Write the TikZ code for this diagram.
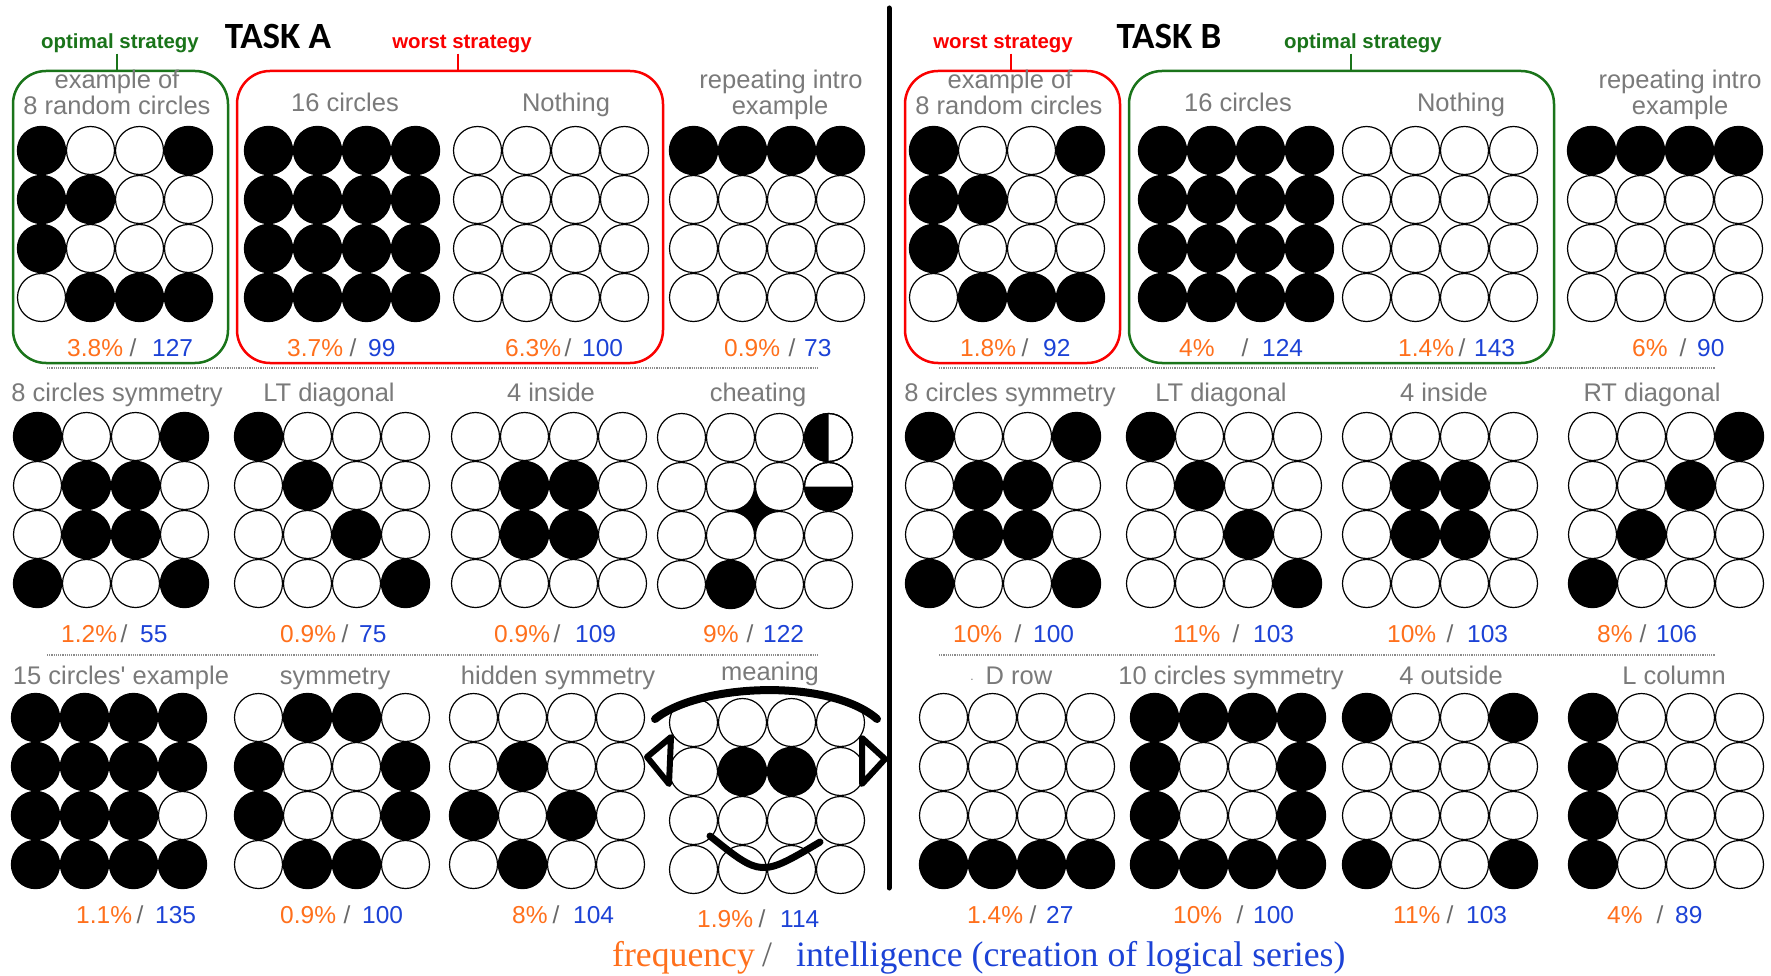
\documentclass[tikz,border=0pt]{standalone}
\usepackage{fontspec}
\setmainfont{Liberation Sans}
\newfontfamily\titlefont{Carlito}
\newfontfamily\legendfont{Liberation Serif}
\usetikzlibrary{calc}

\definecolor{labgray}{RGB}{122,122,122}
\definecolor{pctorange}{RGB}{255,112,28}
\definecolor{pctblue}{RGB}{28,66,214}
\definecolor{slashgray}{RGB}{105,105,105}
\definecolor{optgreen}{RGB}{26,116,26}
\definecolor{worstred}{RGB}{250,0,0}
\definecolor{sepgray}{RGB}{140,140,140}

\tikzset{
  heading/.style={font=\fontsize{37}{42}\titlefont\bfseries\selectfont, inner sep=0pt, anchor=base},
  optlab/.style={text=optgreen, font=\fontsize{20.4}{22}\bfseries\selectfont, inner sep=0pt, anchor=base},
  worstlab/.style={text=worstred, font=\fontsize{20.4}{22}\bfseries\selectfont, inner sep=0pt, anchor=base},
  optbox/.style={draw=optgreen, line width=2.5pt, rounded corners=33pt, inner sep=0pt, outer sep=0pt},
  worstbox/.style={draw=worstred, line width=2.5pt, rounded corners=33pt, inner sep=0pt, outer sep=0pt},
  lab/.style={text=labgray, font=\fontsize{25.5}{27}\selectfont, inner sep=0pt, anchor=base},
  pcto/.style={text=pctorange, font=\fontsize{24.5}{26}\selectfont, inner sep=0pt, anchor=base west},
  pcts/.style={text=slashgray, font=\fontsize{24.5}{26}\selectfont, inner sep=0pt, anchor=base},
  pctn/.style={text=pctblue, font=\fontsize{24.5}{26}\selectfont, inner sep=0pt, anchor=base west},
  legendtxt/.style={font=\fontsize{35.7}{38}\legendfont\selectfont, inner sep=0pt},
  whitecell/.style={draw=black, fill=white, line width=1.2pt},
  blackcell/.style={fill=black},
  sepline/.style={draw=sepgray, line width=1.6pt, dash pattern=on 1.1pt off 1.1pt},
  ticks/.style={line width=2.5pt},
  facestroke/.style={draw=black, line cap=round, line join=round}
}

% 4x4 field of circles: left edge, top edge, 16 values (1 = black)
\newcommand\dotgrid[3]{%
  \foreach \v [count=\k from 0] in {#3}{%
    \pgfmathtruncatemacro\gc{mod(\k,4)}%
    \pgfmathtruncatemacro\gr{div(\k,4)}%
    \ifnum\v=1
      \fill[blackcell] ({#1+49*\gc+24.5},{#2+49*\gr+24.5}) circle[radius=24.7pt];
    \else
      \draw[whitecell] ({#1+49*\gc+24.5},{#2+49*\gr+24.5}) circle[radius=24pt];
    \fi
  }%
}

% frequency / score pair: name, x of percent, percent, x of slash, x of score, score, baseline
\newcommand\pctline[7]{%
  \node[pcto] (#1o) at (#2,#7) {#3\%};
  \node[pcts] (#1s) at (#4,#7) {/};
  \node[pctn] (#1n) at (#5,#7) {#6};
}

\begin{document}
\begin{tikzpicture}[x=1pt,y=-1pt]
\fill[white] (0,0) rectangle (1771,976);
\useasboundingbox (0,0) rectangle (1771,976);

% ---------- headings ----------
\node[heading] (taskA) at (278,49) {TASK A};
\node[heading] (taskB) at (1169,49) {TASK B};

\node[optlab] (optA) at (120,49) {optimal strategy};
\node[worstlab] (worstA) at (462,49) {worst strategy};
\node[worstlab] (worstB) at (1003,49) {worst strategy};
\node[optlab] (optB) at (1363,49) {optimal strategy};

% ---------- strategy frames ----------
\node[optbox, minimum width=215pt, minimum height=292pt] (boxA1) at (120.5,217) {};
\node[worstbox, minimum width=426pt, minimum height=292pt] (boxA2) at (450,217) {};
\node[worstbox, minimum width=215pt, minimum height=292pt] (boxB1) at (1012.5,217) {};
\node[optbox, minimum width=425pt, minimum height=292pt] (boxB2) at (1341.5,217) {};

\coordinate (tA1) at (117,0);
\coordinate (tA2) at (458,0);
\coordinate (tB1) at (1011,0);
\coordinate (tB2) at (1351,0);
\draw[ticks, optgreen] (optA.south -| tA1) -- (boxA1.north -| tA1);
\draw[ticks, worstred] (worstA.south -| tA2) -- (boxA2.north -| tA2);
\draw[ticks, worstred] (worstB.south -| tB1) -- (boxB1.north -| tB1);
\draw[ticks, optgreen] (optB.south -| tB2) -- (boxB2.north -| tB2);

% ---------- separators ----------
\draw[line width=5pt, line cap=round] (889,8) -- (889,888);
\draw[sepline] (47,368) -- (818,368);
\draw[sepline] (939,368) -- (1715,368);
\draw[sepline] (47,655) -- (818,655);
\draw[sepline] (939,655) -- (1715,655);

% ---------- row 1 ----------
\node[lab] (lA1a) at (117,89) {example of};
\node[lab] (lA1b) at (117,115) {8 random circles};
\node[lab] (lA2) at (345,112) {16 circles};
\node[lab] (lA3) at (566,112) {Nothing};
\node[lab] (lA4a) at (781,89) {repeating intro};
\node[lab] (lA4b) at (780,115) {example};
\node[lab] (lB1a) at (1010,89) {example of};
\node[lab] (lB1b) at (1009,115) {8 random circles};
\node[lab] (lB2) at (1238,112) {16 circles};
\node[lab] (lB3) at (1461,112) {Nothing};
\node[lab] (lB4a) at (1680,89) {repeating intro};
\node[lab] (lB4b) at (1680,115) {example};

\dotgrid{17}{126}{1,0,0,1,1,1,0,0,1,0,0,0,0,1,1,1}
\dotgrid{244}{126}{1,1,1,1,1,1,1,1,1,1,1,1,1,1,1,1}
\dotgrid{453}{126}{0,0,0,0,0,0,0,0,0,0,0,0,0,0,0,0}
\dotgrid{669}{126}{1,1,1,1,0,0,0,0,0,0,0,0,0,0,0,0}
\dotgrid{909}{126}{1,0,0,1,1,1,0,0,1,0,0,0,0,1,1,1}
\dotgrid{1138}{126}{1,1,1,1,1,1,1,1,1,1,1,1,1,1,1,1}
\dotgrid{1342}{126}{0,0,0,0,0,0,0,0,0,0,0,0,0,0,0,0}
\dotgrid{1567}{126}{1,1,1,1,0,0,0,0,0,0,0,0,0,0,0,0}

\pctline{pA1}{67}{3.8}{133}{152}{127}{356}
\pctline{pA2}{287}{3.7}{353}{368}{99}{356}
\pctline{pA3}{505}{6.3}{568}{582}{100}{356}
\pctline{pA4}{724}{0.9}{792}{804}{73}{356}
\pctline{pB1}{960}{1.8}{1025}{1043}{92}{356}
\pctline{pB2}{1179}{4}{1245}{1262}{124}{356}
\pctline{pB3}{1398}{1.4}{1462}{1474}{143}{356}
\pctline{pB4}{1632}{6}{1683}{1697}{90}{356}

% ---------- row 2 ----------
\node[lab] (lA5) at (117,401) {8 circles symmetry};
\node[lab] (lA6) at (329,401) {LT diagonal};
\node[lab] (lA7) at (551,401) {4 inside};
\node[lab] (lA8) at (758,401) {cheating};
\node[lab] (lB5) at (1010,401) {8 circles symmetry};
\node[lab] (lB6) at (1221,401) {LT diagonal};
\node[lab] (lB7) at (1444,401) {4 inside};
\node[lab] (lB8) at (1652,401) {RT diagonal};

% dark gap between four cells in the cheating field
\fill[black] (755,486.5) -- (779.5,511) -- (755,535.5) -- (730.5,511) -- cycle;

\dotgrid{13}{412}{1,0,0,1,0,1,1,0,0,1,1,0,1,0,0,1}
\dotgrid{234}{412}{1,0,0,0,0,1,0,0,0,0,1,0,0,0,0,1}
\dotgrid{451}{412}{0,0,0,0,0,1,1,0,0,1,1,0,0,0,0,0}
\dotgrid{657}{413}{0,0,0,0,0,0,0,0,0,0,0,0,0,1,0,0}
\dotgrid{905}{412}{1,0,0,1,0,1,1,0,0,1,1,0,1,0,0,1}
\dotgrid{1126}{412}{1,0,0,0,0,1,0,0,0,0,1,0,0,0,0,1}
\dotgrid{1342}{412}{0,0,0,0,0,1,1,0,0,1,1,0,0,0,0,0}
\dotgrid{1568}{412}{0,0,0,1,0,0,1,0,0,1,0,0,1,0,0,0}

% half-filled cells of the cheating field
\fill[black] (828.5,413.5) arc[start angle=90, end angle=270, radius=24pt] -- cycle;
\draw[whitecell, fill=none] (828.5,437.5) circle[radius=24pt];
\fill[black] (804.5,486.5) arc[start angle=180, end angle=360, radius=24pt] -- cycle;
\draw[whitecell, fill=none] (828.5,486.5) circle[radius=24pt];

\pctline{pA5}{61}{1.2}{124}{140}{55}{642}
\pctline{pA6}{280}{0.9}{345}{359}{75}{642}
\pctline{pA7}{494}{0.9}{557}{575}{109}{642}
\pctline{pA8}{703}{9}{750}{763}{122}{642}
\pctline{pB5}{953}{10}{1018}{1033}{100}{642}
\pctline{pB6}{1173}{11}{1236}{1253}{103}{642}
\pctline{pB7}{1387}{10}{1450}{1467}{103}{642}
\pctline{pB8}{1597}{8}{1643}{1656}{106}{642}

% ---------- row 3 ----------
\node[lab] (lA9) at (121,684) {15 circles\textquotesingle{} example};
\node[lab] (lA10) at (335,684) {symmetry};
\node[lab] (lA11) at (558,684) {hidden symmetry};
\node[lab] (lA12) at (770,680) {meaning};
\node[lab, font=\fontsize{12}{14}\selectfont] (lB9dot) at (972,680) {.};
\node[lab] (lB9) at (1019,684) {D row};
\node[lab] (lB10) at (1231,684) {10 circles symmetry};
\node[lab] (lB11) at (1451,684) {4 outside};
\node[lab] (lB12) at (1674,684) {L column};

\dotgrid{11}{693}{1,1,1,1,1,1,1,1,1,1,1,0,1,1,1,1}
\dotgrid{234}{693}{0,1,1,0,1,0,0,1,1,0,0,1,0,1,1,0}
\dotgrid{449}{693}{0,0,0,0,0,1,0,0,1,0,1,0,0,1,0,0}
\dotgrid{669}{698}{0,0,0,0,0,1,1,0,0,0,0,0,0,0,0,0}
\dotgrid{919}{693}{0,0,0,0,0,0,0,0,0,0,0,0,1,1,1,1}
\dotgrid{1130}{693}{1,1,1,1,1,0,0,1,1,0,0,1,1,1,1,1}
\dotgrid{1342}{693}{1,0,0,1,0,0,0,0,0,0,0,0,1,0,0,1}
\dotgrid{1568}{693}{1,0,0,0,1,0,0,0,1,0,0,0,1,0,0,0}

% face strokes over the meaning field
\draw[facestroke, line width=8pt] (655,719) .. controls (700,683) and (830,678) .. (877,719);
\draw[facestroke, line width=6pt] (647,757) -- (671,737) -- (669,784) -- cycle;
\draw[facestroke, line width=6pt] (862,738) -- (885,759) -- (862,784) -- cycle;
\draw[facestroke, line width=7pt] (710,836) .. controls (761,877) .. (820,842);

\pctline{pA9}{76}{1.1}{140}{155}{135}{923}
\pctline{pA10}{280}{0.9}{347}{362}{100}{923}
\pctline{pA11}{512}{8}{556}{573}{104}{923}
\pctline{pA12}{697}{1.9}{762}{780}{114}{927}
\pctline{pB9}{967}{1.4}{1033}{1046}{27}{923}
\pctline{pB10}{1173}{10}{1240}{1253}{100}{923}
\pctline{pB11}{1393}{11}{1450}{1466}{103}{923}
\pctline{pB12}{1607}{4}{1660}{1675}{89}{923}

% ---------- legend ----------
\node[legendtxt, text=pctorange, anchor=base west] (legF) at (612,966) {frequency};
\node[legendtxt, text=slashgray, anchor=base] (legS) at (767,966) {/};
\node[legendtxt, text=pctblue, anchor=base west] (legI) at (796,966) {intelligence (creation of logical series)};
\end{tikzpicture}
\end{document}
